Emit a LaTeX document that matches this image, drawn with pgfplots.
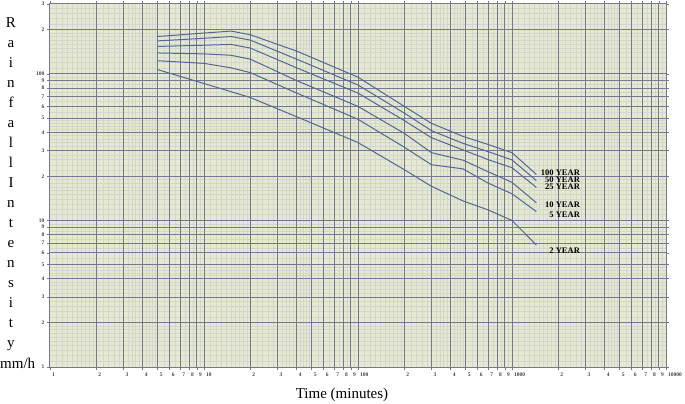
\documentclass[border=0pt]{standalone}
\usepackage{pgfplots}
\pgfplotsset{compat=1.18}
\usepackage{fontspec}
\setmainfont{Liberation Serif}

\definecolor{paper}{RGB}{228,233,208}
\definecolor{gridd}{RGB}{116,120,146}
\definecolor{gridf}{RGB}{210,214,204}
\definecolor{curve}{RGB}{84,102,148}

\begin{document}
\begin{tikzpicture}
\begin{axis}[
  name=ax,
  scale only axis,
  width=616pt, height=363pt,
  xmode=log, ymode=log,
  xmin=1, xmax=10000, ymin=1, ymax=300,
  axis background/.style={fill=paper},
  axis line style={gridd, line width=1pt},
  % fine lines of the log paper (drawn first)
  xtick={1.1,1.2,1.3,1.4,1.5,1.6,1.7,1.8,1.9,2.2,2.4,2.6,2.8,3.2,3.4,3.6,3.8,4.2,4.4,4.6,4.8,5.5,6.5,7.5,8.5,9.5,
    11,12,13,14,15,16,17,18,19,22,24,26,28,32,34,36,38,42,44,46,48,55,65,75,85,95,
    110,120,130,140,150,160,170,180,190,220,240,260,280,320,340,360,380,420,440,460,480,550,650,750,850,950,
    1100,1200,1300,1400,1500,1600,1700,1800,1900,2200,2400,2600,2800,3200,3400,3600,3800,4200,4400,4600,4800,5500,6500,7500,8500,9500},
  ytick={1.1,1.2,1.3,1.4,1.5,1.6,1.7,1.8,1.9,2.2,2.4,2.6,2.8,3.2,3.4,3.6,3.8,4.2,4.4,4.6,4.8,5.5,6.5,7.5,8.5,9.5,
    11,12,13,14,15,16,17,18,19,22,24,26,28,32,34,36,38,42,44,46,48,55,65,75,85,95,
    110,120,130,140,150,160,170,180,190,220,240,260,280},
  xticklabels={}, yticklabels={},
  minor tick num=0,
  grid=major,
  major grid style={gridf, line width=0.35pt},
  major tick length=0pt,
  % labelled lines at 1..9 of each decade (drawn on top)
  extra x ticks={1,2,3,4,5,6,7,8,9,10,20,30,40,50,60,70,80,90,100,200,300,400,500,600,700,800,900,1000,2000,3000,4000,5000,6000,7000,8000,9000,10000},
  extra x tick labels={1,2,3,4,5,6,7,8,9,10,2,3,4,5,6,7,8,9,100,2,3,4,5,6,7,8,9,1000,2,3,4,5,6,7,8,9,10000},
  extra y ticks={1,2,3,4,5,6,7,8,9,10,20,30,40,50,60,70,80,90,100,200,300},
  extra y tick labels={1,2,3,4,5,6,7,8,9,10,2,3,4,5,6,7,8,9,100,2,3},
  extra tick style={grid=major, major tick length=3pt, tick align=outside,
    major grid style={gridd, line width=1pt},
    tick style={gridd, line width=0.8pt}},
  tick label style={font=\fontsize{5.5}{6}\selectfont\bfseries, text=black!75},
  xticklabel style={anchor=north west, xshift=-1.4pt, yshift=1pt},
  yticklabel style={xshift=1pt},
  clip=false,
]
% 100 year
\addplot[curve, line width=1pt] coordinates {
 (5,180)(10,190)(15,196)(20,185)(40,143)(100,95)(200,60)(300,46)(480,37.5)(700,33)(1000,29)(1440,20.6)};
% 50 year
\addplot[curve, line width=1pt] coordinates {
 (5,168)(10,175)(15,180)(20,170)(40,126)(100,84)(200,54)(300,41)(480,33.6)(700,29.5)(1000,25.9)(1440,18.7)};
% 25 year
\addplot[curve, line width=1pt] coordinates {
 (5,154)(10,157)(15,159)(20,150)(40,110)(100,74)(200,48)(300,36.7)(480,30.3)(700,26)(1000,22.9)(1440,16.8)};
% 10 year
\addplot[curve, line width=1pt] coordinates {
 (5,139)(10,137)(15,134)(20,126)(40,90)(100,60)(200,39.3)(300,29)(480,25.8)(700,21.5)(1000,18.2)(1440,13.2)};
% 5 year
\addplot[curve, line width=1pt] coordinates {
 (5,123)(10,118)(15,110)(20,102)(40,74)(100,49)(200,31.6)(300,24)(480,22.5)(700,18)(1000,15.2)(1440,11.5)};
% 2 year
\addplot[curve, line width=1pt] coordinates {
 (5,107)(10,86)(20,69)(40,51)(100,34)(200,22.2)(300,17.1)(480,13.6)(700,11.8)(1000,10)(1440,6.8)};

\begin{scope}[every node/.style={anchor=east, inner sep=0pt, font=\fontsize{8.5}{9}\selectfont\bfseries}]
\node at (axis cs:2770,21.2) {100 YEAR};
\node at (axis cs:2770,19.0) {50 YEAR};
\node at (axis cs:2770,16.9) {25 YEAR};
\node at (axis cs:2770,12.8) {10 YEAR};
\node at (axis cs:2770,10.9) {5 YEAR};
\node at (axis cs:2770,6.2) {2 YEAR};
\end{scope}
\end{axis}

% vertical y label, one letter per line
\foreach \c [count=\i] in {R,a,i,n,f,a,l,l,I,n,t,e,n,s,i,t,y}{
  \node[anchor=base, inner sep=0pt, font=\fontsize{15}{18}\selectfont]
    at ([shift={(-39pt,{-24pt-20pt*(\i-1)})}]ax.north west) {\c};
}
\node[anchor=base west, inner sep=0pt, font=\fontsize{15}{18}\selectfont]
  at ([shift={(-50pt,-1pt)}]ax.south west) {mm/h};
\node[anchor=base, inner sep=0pt, font=\fontsize{15}{18}\selectfont]
  at ([shift={(292pt,-31pt)}]ax.south west) {Time (minutes)};

\pgfresetboundingbox
\path[use as bounding box] ([shift={(-50pt,-37pt)}]ax.south west) rectangle ([shift={(19pt,4pt)}]ax.north east);
\end{tikzpicture}
\end{document}
